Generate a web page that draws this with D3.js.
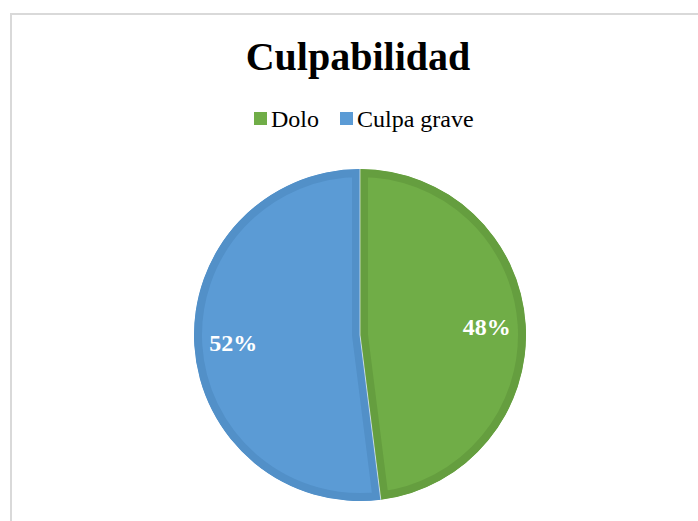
<!DOCTYPE html>
<html>
<head>
<meta charset="utf-8">
<script src="https://cdn.jsdelivr.net/npm/d3@7"></script>
<style>
  body { margin: 0; background: #fff; }
</style>
</head>
<body>
<div id="chart"></div>
<script>
const categories = ["Dolo", "Culpa grave"];
const values = [48, 52];
const fillColors = ["#70ad47", "#5b9bd5"];
const edgeColors = ["#659e3f", "#5290c8"];

const width = 698, height = 521;
const cx = 360, cy = 335, radius = 166;

const svg = d3.select("#chart").append("svg")
  .attr("width", width)
  .attr("height", height);

// chart frame
svg.append("rect")
  .attr("x", 11).attr("y", 14)
  .attr("width", width).attr("height", height)
  .attr("fill", "none")
  .attr("stroke", "#d9d9d9")
  .attr("stroke-width", 2);

svg.append("text")
  .attr("x", 358).attr("y", 70)
  .attr("text-anchor", "middle")
  .attr("font-family", "'Liberation Serif', 'Times New Roman', serif")
  .attr("font-weight", "bold")
  .attr("font-size", 40)
  .text("Culpabilidad");

// legend
const legendX = [254, 340];
const legend = svg.append("g");
categories.forEach((c, i) => {
  legend.append("rect")
    .attr("x", legendX[i]).attr("y", 112)
    .attr("width", 13).attr("height", 13)
    .attr("fill", fillColors[i]);
  legend.append("text")
    .attr("x", legendX[i] + 17).attr("y", 127)
    .attr("font-family", "'Liberation Serif', 'Times New Roman', serif")
    .attr("font-size", 24)
    .text(c);
});

const pie = d3.pie().sort(null).value(d => d);
const arcs = pie(values);
const arc = d3.arc().innerRadius(0).outerRadius(radius);
const labelArc = d3.arc().innerRadius(127).outerRadius(127);

const g = svg.append("g").attr("transform", `translate(${cx},${cy})`);
const defs = svg.append("defs");

arcs.forEach((a, i) => {
  defs.append("clipPath").attr("id", "clip" + i)
    .append("path").attr("d", arc(a));
  g.append("path")
    .attr("d", arc(a))
    .attr("fill", fillColors[i])
    .attr("stroke", edgeColors[i])
    .attr("stroke-width", 16)
    .attr("clip-path", `url(#clip${i})`);
});

g.selectAll("line.sep").data(arcs).join("line")
  .attr("x1", 0).attr("y1", 0)
  .attr("x2", d => radius * Math.sin(d.startAngle))
  .attr("y2", d => -radius * Math.cos(d.startAngle))
  .attr("stroke", "#ffffff")
  .attr("stroke-opacity", 0.6)
  .attr("stroke-width", 1);

g.selectAll("text.lbl").data(arcs).join("text")
  .attr("transform", d => `translate(${labelArc.centroid(d)})`)
  .attr("text-anchor", "middle")
  .attr("dy", "0.35em")
  .attr("font-family", "'Liberation Serif', 'Times New Roman', serif")
  .attr("font-weight", "bold")
  .attr("font-size", 24)
  .attr("fill", "#ffffff")
  .text(d => d.data + "%");
</script>
</body>
</html>
